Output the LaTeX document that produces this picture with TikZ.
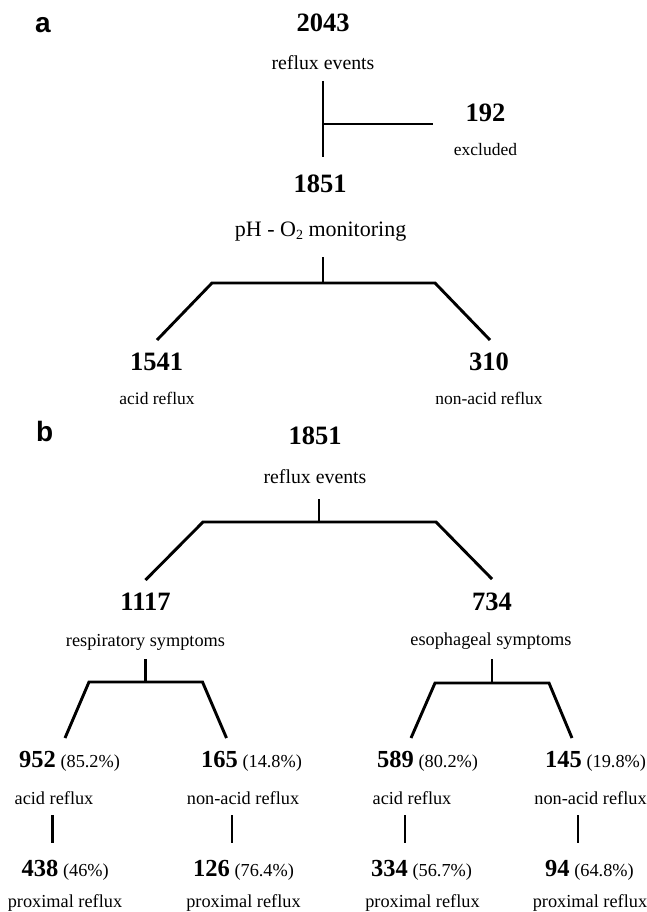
\documentclass[tikz,border=0pt]{standalone}
\usepackage{fontspec}
\setmainfont{Liberation Serif}
\newfontfamily\lsans{Liberation Sans}
\tikzset{
  big/.style={anchor=base, inner sep=0pt, font=\fontsize{26.5}{27}\selectfont\bfseries},
  lbl/.style={anchor=base, inner sep=0pt, font=\fontsize{18.3}{19}\selectfont},
  lbla/.style={anchor=base, inner sep=0pt, font=\fontsize{17.5}{18}\selectfont},
  pct/.style={anchor=base west, inner sep=0pt, font=\fontsize{18.3}{19}\selectfont},
  panel/.style={anchor=base west, inner sep=0pt, font=\lsans\bfseries\fontsize{28}{28}\selectfont},
  ln/.style={line width=2.9pt}
}
\newcommand{\bnum}[1]{{\bfseries\fontsize{24.5}{25}\selectfont #1}}
\begin{document}
\begin{tikzpicture}[x=1pt,y=-1pt]
\useasboundingbox (0,0) rectangle (646,912);
% ---------- panel a ----------
\node[panel] (pa) at (35,32.3) {a};
\node[big] (n2043) at (323,32) {2043};
\node[lbl, font=\fontsize{19.8}{20}\selectfont] (re1) at (323,70) {reflux events};
\node[big] (n192) at (485.5,121.7) {192};
\node[lbla] (exc) at (485.5,156) {excluded};
\node[big] (n1851a) at (320,193) {1851};
\node[lbl, font=\fontsize{22}{22}\selectfont] (ph) at (320.6,236) {pH - O\raisebox{-0.35ex}{\fontsize{14}{14}\selectfont 2} monitoring};
\node[big] (n1541) at (156.5,370) {1541};
\node[big] (n310) at (489,370) {310};
\node[lbla] (ar1) at (157,404) {acid reflux};
\node[lbla] (nar1) at (489,404) {non-acid reflux};

\coordinate (a1) at (323,81);
\coordinate (a2) at (323,157);
\coordinate (a3) at (323,124);
\coordinate (a4) at (433,124);
\draw[ln] (a1) -- (a2);
\draw[ln] (a3) -- (a4);
\coordinate (b1) at (323,257);
\coordinate (b2) at (323,283);
\coordinate (bl) at (212,283);
\coordinate (br) at (435,283);
\coordinate (bll) at (157,340);
\coordinate (brr) at (490,340);
\draw[ln] (b1) -- (b2);
\draw[ln] (bll) -- (bl) -- (br) -- (brr);

% ---------- panel b ----------
\node[panel] (pb) at (36,441.7) {b};
\node[big] (n1851b) at (315,444) {1851};
\node[lbl, font=\fontsize{19.8}{20}\selectfont] (re2) at (315,483) {reflux events};
\coordinate (c1) at (319,499);
\coordinate (c2) at (319,522);
\coordinate (cl) at (203,522);
\coordinate (cr) at (436,522);
\coordinate (cll) at (145.5,580);
\coordinate (crr) at (492,579);
\draw[ln] (c1) -- (c2);
\draw[ln] (cll) -- (cl) -- (cr) -- (crr);

\node[big] (n1117) at (145.5,610) {1117};
\node[big] (n734) at (492,610) {734};
\node[lbl] (resp) at (145.5,646) {respiratory symptoms};
\node[lbl] (eso) at (491,645) {esophageal symptoms};

% left subtree
\coordinate (d1) at (145.5,659);
\coordinate (d2) at (145.5,682);
\coordinate (dl) at (89,682);
\coordinate (dr) at (202.5,682);
\coordinate (dll) at (65,738);
\coordinate (drr) at (226.5,738);
\draw[ln] (d1) -- (d2);
\draw[ln] (dll) -- (dl) -- (dr) -- (drr);
% right subtree
\coordinate (e1) at (492,659);
\coordinate (e2) at (492,683);
\coordinate (el) at (435,683);
\coordinate (er) at (549,683);
\coordinate (ell) at (411,738);
\coordinate (err) at (572,738);
\draw[ln] (e1) -- (e2);
\draw[ln] (ell) -- (el) -- (er) -- (err);

% row of percentages
\node[pct] (p952) at (19,767) {\bnum{952} (85.2\%)};
\node[pct] (p165) at (201,767) {\bnum{165} (14.8\%)};
\node[pct] (p589) at (377,767) {\bnum{589} (80.2\%)};
\node[pct] (p145) at (545,767) {\bnum{145} (19.8\%)};

\node[lbl] (ar2) at (54,804) {acid reflux};
\node[lbl] (nar2) at (243,804) {non-acid reflux};
\node[lbl] (ar3) at (412,804) {acid reflux};
\node[lbl] (nar3) at (590.5,804) {non-acid reflux};

\coordinate (f1a) at (52.5,815); \coordinate (f1b) at (52.5,843);
\coordinate (f2a) at (232,815);  \coordinate (f2b) at (232,843);
\coordinate (f3a) at (405,815);  \coordinate (f3b) at (405,843);
\coordinate (f4a) at (578,815);  \coordinate (f4b) at (578,843);
\draw[ln] (f1a) -- (f1b);
\draw[ln] (f2a) -- (f2b);
\draw[ln] (f3a) -- (f3b);
\draw[ln] (f4a) -- (f4b);

\node[pct] (p438) at (21.5,876) {\bnum{438} (46\%)};
\node[pct] (p126) at (193,876) {\bnum{126} (76.4\%)};
\node[pct] (p334) at (371,876) {\bnum{334} (56.7\%)};
\node[pct] (p94) at (545,876) {\bnum{94} (64.8\%)};

\node[lbl] (px1) at (65,907) {proximal reflux};
\node[lbl] (px2) at (243.5,907) {proximal reflux};
\node[lbl] (px3) at (422.5,907) {proximal reflux};
\node[lbl] (px4) at (590,907) {proximal reflux};
\end{tikzpicture}
\end{document}
